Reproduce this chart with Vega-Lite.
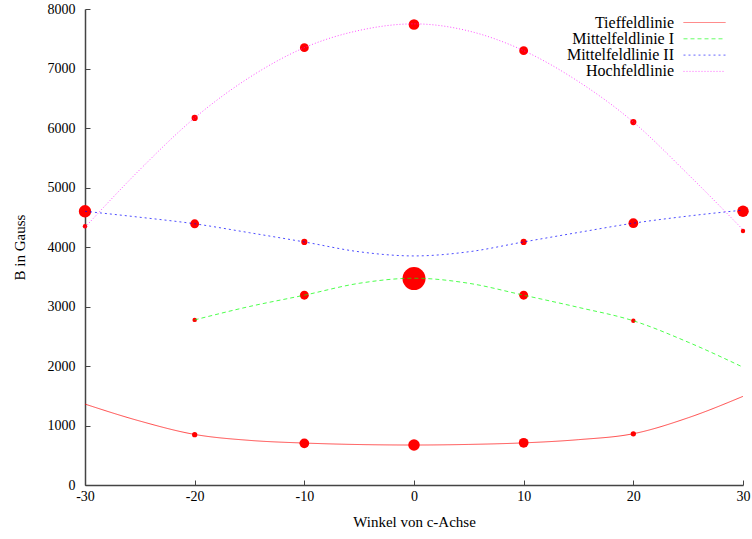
{
  "$schema": "https://vega.github.io/schema/vega-lite/v6.json",
  "width": 658,
  "height": 476,
  "autosize": {"type": "none"},
  "padding": {"left": 85, "top": 9, "right": 9, "bottom": 54},
  "background": "white",
  "config": {
    "view": {"stroke": null},
    "font": "Liberation Serif",
    "axis": {
      "grid": false,
      "domainColor": "#444444",
      "domainWidth": 1.5,
      "tickColor": "#444444",
      "tickWidth": 1,
      "tickSize": -5,
      "labelFlush": false,
      "labelOverlap": false,
      "labelFont": "Liberation Serif",
      "labelFontSize": 14,
      "labelColor": "#000000",
      "labelExpr": "'' + datum.value",
      "titleFont": "Liberation Serif",
      "titleFontSize": 15,
      "titleFontWeight": "normal",
      "titleColor": "#000000"
    }
  },
  "datasets": {
    "curves": [
      {"angle": -30, "B": 1360, "serie": "Tieffeldlinie"},
      {"angle": -25, "B": 1075, "serie": "Tieffeldlinie"},
      {"angle": -20, "B": 850, "serie": "Tieffeldlinie"},
      {"angle": -15, "B": 750, "serie": "Tieffeldlinie"},
      {"angle": -10, "B": 705, "serie": "Tieffeldlinie"},
      {"angle": -5, "B": 680, "serie": "Tieffeldlinie"},
      {"angle": 0, "B": 672, "serie": "Tieffeldlinie"},
      {"angle": 5, "B": 682, "serie": "Tieffeldlinie"},
      {"angle": 10, "B": 708, "serie": "Tieffeldlinie"},
      {"angle": 15, "B": 762, "serie": "Tieffeldlinie"},
      {"angle": 20, "B": 862, "serie": "Tieffeldlinie"},
      {"angle": 25, "B": 1130, "serie": "Tieffeldlinie"},
      {"angle": 30, "B": 1490, "serie": "Tieffeldlinie"},
      {"angle": -20, "B": 2775, "serie": "Mittelfeldlinie I"},
      {"angle": -15, "B": 3000, "serie": "Mittelfeldlinie I"},
      {"angle": -10, "B": 3190, "serie": "Mittelfeldlinie I"},
      {"angle": -5, "B": 3390, "serie": "Mittelfeldlinie I"},
      {"angle": 0, "B": 3475, "serie": "Mittelfeldlinie I"},
      {"angle": 5, "B": 3390, "serie": "Mittelfeldlinie I"},
      {"angle": 10, "B": 3190, "serie": "Mittelfeldlinie I"},
      {"angle": 15, "B": 2985, "serie": "Mittelfeldlinie I"},
      {"angle": 20, "B": 2760, "serie": "Mittelfeldlinie I"},
      {"angle": 25, "B": 2400, "serie": "Mittelfeldlinie I"},
      {"angle": 30, "B": 1980, "serie": "Mittelfeldlinie I"},
      {"angle": -30, "B": 4600, "serie": "Mittelfeldlinie II"},
      {"angle": -25, "B": 4500, "serie": "Mittelfeldlinie II"},
      {"angle": -20, "B": 4390, "serie": "Mittelfeldlinie II"},
      {"angle": -15, "B": 4240, "serie": "Mittelfeldlinie II"},
      {"angle": -10, "B": 4085, "serie": "Mittelfeldlinie II"},
      {"angle": -5, "B": 3920, "serie": "Mittelfeldlinie II"},
      {"angle": 0, "B": 3850, "serie": "Mittelfeldlinie II"},
      {"angle": 5, "B": 3920, "serie": "Mittelfeldlinie II"},
      {"angle": 10, "B": 4085, "serie": "Mittelfeldlinie II"},
      {"angle": 15, "B": 4245, "serie": "Mittelfeldlinie II"},
      {"angle": 20, "B": 4400, "serie": "Mittelfeldlinie II"},
      {"angle": 25, "B": 4520, "serie": "Mittelfeldlinie II"},
      {"angle": 30, "B": 4620, "serie": "Mittelfeldlinie II"},
      {"angle": -30, "B": 4330, "serie": "Hochfeldlinie"},
      {"angle": -25, "B": 5300, "serie": "Hochfeldlinie"},
      {"angle": -20, "B": 6170, "serie": "Hochfeldlinie"},
      {"angle": -15, "B": 6850, "serie": "Hochfeldlinie"},
      {"angle": -10, "B": 7350, "serie": "Hochfeldlinie"},
      {"angle": -5, "B": 7640, "serie": "Hochfeldlinie"},
      {"angle": 0, "B": 7750, "serie": "Hochfeldlinie"},
      {"angle": 5, "B": 7630, "serie": "Hochfeldlinie"},
      {"angle": 10, "B": 7300, "serie": "Hochfeldlinie"},
      {"angle": 15, "B": 6780, "serie": "Hochfeldlinie"},
      {"angle": 20, "B": 6100, "serie": "Hochfeldlinie"},
      {"angle": 25, "B": 5220, "serie": "Hochfeldlinie"},
      {"angle": 30, "B": 4290, "serie": "Hochfeldlinie"}
    ],
    "points": [
      {"angle": -30, "B": 4600, "I": 29},
      {"angle": -30, "B": 4350, "I": 3.7},
      {"angle": -20, "B": 6170, "I": 7.2},
      {"angle": -20, "B": 4390, "I": 14.8},
      {"angle": -20, "B": 2775, "I": 3.7},
      {"angle": -20, "B": 845, "I": 5.3},
      {"angle": -10, "B": 7350, "I": 14.8},
      {"angle": -10, "B": 4085, "I": 7.2},
      {"angle": -10, "B": 3190, "I": 14.8},
      {"angle": -10, "B": 700, "I": 17.9},
      {"angle": 0, "B": 7740, "I": 21.3},
      {"angle": 0, "B": 3470, "I": 100},
      {"angle": 0, "B": 672, "I": 25},
      {"angle": 10, "B": 7300, "I": 14.8},
      {"angle": 10, "B": 4085, "I": 7.2},
      {"angle": 10, "B": 3190, "I": 14.8},
      {"angle": 10, "B": 710, "I": 17.9},
      {"angle": 20, "B": 6100, "I": 7.2},
      {"angle": 20, "B": 4400, "I": 17.9},
      {"angle": 20, "B": 2760, "I": 3.7},
      {"angle": 20, "B": 860, "I": 5.3},
      {"angle": 30, "B": 4600, "I": 25},
      {"angle": 30, "B": 4270, "I": 3.7}
    ]
  },
  "encoding": {
    "x": {
      "field": "angle",
      "type": "quantitative",
      "scale": {"domain": [-30, 30], "nice": false, "zero": false},
      "axis": {"values": [-30, -20, -10, 0, 10, 20, 30], "title": "Winkel von c-Achse", "labelPadding": 9, "titlePadding": 11}
    },
    "y": {
      "field": "B",
      "type": "quantitative",
      "scale": {"domain": [0, 8000], "nice": false},
      "axis": {"values": [0, 1000, 2000, 3000, 4000, 5000, 6000, 7000, 8000], "title": "B in Gauss", "labelPadding": 15, "titlePadding": 20}
    }
  },
  "layer": [
    {
      "data": {"name": "points"},
      "mark": {"type": "circle", "color": "#ff0000", "opacity": 1},
      "encoding": {
        "size": {"field": "I", "type": "quantitative", "scale": {"type": "linear", "domain": [0, 100], "range": [0, 531]}, "legend": null}
      }
    },
    {
      "data": {"name": "curves"},
      "mark": {"type": "line", "interpolate": "monotone", "strokeWidth": 1, "strokeOpacity": 0.7},
      "encoding": {
        "color": {
          "field": "serie",
          "type": "nominal",
          "scale": {"domain": ["Tieffeldlinie", "Mittelfeldlinie I", "Mittelfeldlinie II", "Hochfeldlinie"], "range": ["#ff0000", "#00ff00", "#0000ff", "#ff00ff"]},
          "legend": {
            "title": null,
            "orient": "none",
            "legendX": 611.5,
            "legendY": 5.5,
            "symbolType": "M-3,0H3",
            "symbolSize": 196,
            "symbolStrokeWidth": 1,
            "symbolOpacity": 0.6,
            "labelAlign": "right",
            "labelOffset": -38.5,
            "labelFont": "Liberation Serif",
            "labelFontSize": 16,
            "labelColor": "#000000",
            "rowPadding": 0.3,
            "padding": 0
          }
        },
        "strokeDash": {
          "field": "serie",
          "type": "nominal",
          "scale": {"domain": ["Tieffeldlinie", "Mittelfeldlinie I", "Mittelfeldlinie II", "Hochfeldlinie"], "range": [[1, 0], [4, 3], [2, 3], [1, 2]]},
          "legend": {
            "title": null,
            "orient": "none",
            "legendX": 611.5,
            "legendY": 5.5,
            "symbolType": "M-3,0H3",
            "symbolSize": 196,
            "symbolStrokeWidth": 1,
            "symbolOpacity": 0.6,
            "labelAlign": "right",
            "labelOffset": -38.5,
            "labelFont": "Liberation Serif",
            "labelFontSize": 16,
            "labelColor": "#000000",
            "rowPadding": 0.3,
            "padding": 0
          }
        }
      }
    }
  ]
}
